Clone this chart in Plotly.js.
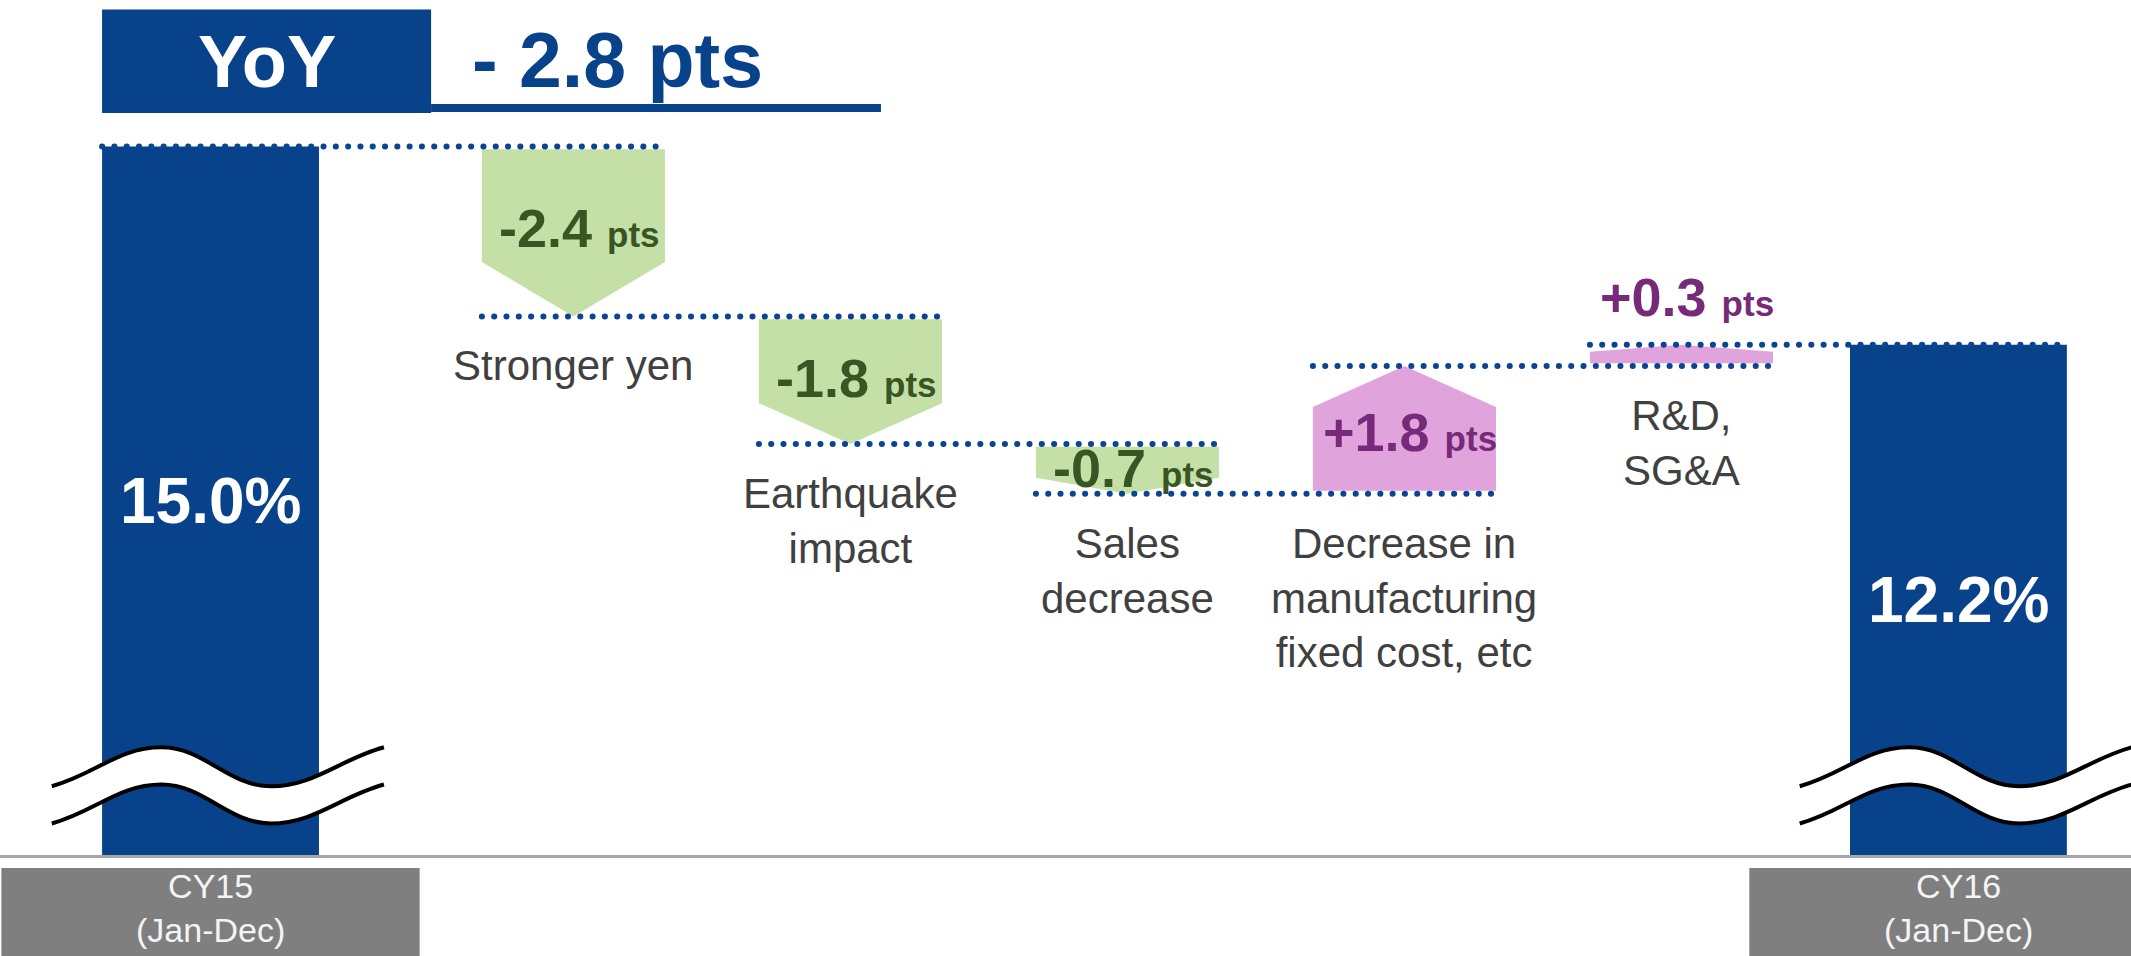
<!DOCTYPE html>
<html>
<head>
<meta charset="utf-8">
<script src="https://cdn.plot.ly/plotly-3.0.1.min.js"></script>
<style>
  html, body { margin: 0; padding: 0; background: #fff; }
  #chart { width: 2131px; height: 956px; }
  /* round caps turn the near-zero dashes of the connectors into dots */
  #chart .js-line { stroke-linecap: round; }
</style>
</head>
<body>
<div id="chart"></div>
<script>
// Operating margin bridge from CY15 to CY16
const categories = ['CY15', 'Stronger yen', 'Earthquake impact', 'Sales decrease',
  'Decrease in manufacturing fixed cost, etc', 'R&D, SG&A', 'CY16'];
const categoryLabels = ['CY15<br>(Jan-Dec)', 'Stronger yen', 'Earthquake<br>impact',
  'Sales<br>decrease', 'Decrease in<br>manufacturing<br>fixed cost, etc', 'R&D,<br>SG&A',
  'CY16<br>(Jan-Dec)'];
const startMargin = 15.0;                    // %
const changes = [-2.4, -1.8, -0.7, 1.8, 0.3]; // pts
const endMargin = 12.2;                      // %

// ---- styling ----
const FONT = 'Liberation Sans, Arial, Helvetica, sans-serif';
const BLUE = '#08428b';
const DOT_BLUE = '#0a4592';
const GREEN_FILL = '#c4e0a6', GREEN_TEXT = '#375623';
const PINK_FILL = '#e0a3dc', PURPLE_TEXT = '#772a79';
const LABEL_GRAY = '#404040';

const AXIS_FLOOR = 5;      // the value axis is broken and starts here
const AXIS_TOP = 15.5;
const LEAD_GAP = 0.31;     // extra room between the opening total and the first step
const BAR_W = 0.783;       // total bars
const STEP_W = 0.661;      // arrow steps
const GAP = 0.04;          // small gap between a level line and the arrow base
const TIP_FRAC = 0.32;     // share of each step taken by the arrow point
const LABEL_FRAC = 0.48;   // where the value sits along its arrow

const round1 = v => Math.round(v * 10) / 10;
const nItems = categories.length;
const xPos = categories.map((_, i) => i === 0 ? 0 : i + LEAD_GAP);
const halfW = i => (i === 0 || i === nItems - 1) ? BAR_W / 2 : STEP_W / 2;

// running level after each item
const levels = [startMargin];
changes.forEach(c => levels.push(round1(levels[levels.length - 1] + c)));
const yoy = round1(endMargin - startMargin);

const traces = [];

// start / end totals
traces.push({
  type: 'bar', x: [xPos[0], xPos[nItems - 1]], y: [startMargin, endMargin], width: BAR_W,
  marker: { color: BLUE, line: { width: 0 } }, hoverinfo: 'skip'
});

// each step drawn as an arrow pointing from the previous level to the new one
changes.forEach((c, k) => {
  const i = k + 1, xc = xPos[i], a = levels[k], b = levels[k + 1];
  const dir = Math.sign(c);
  const hw = halfW(i);
  const base = a + dir * GAP;
  const shoulder = b - dir * Math.abs(c) * TIP_FRAC;
  const fill = c < 0 ? GREEN_FILL : PINK_FILL;
  traces.push({
    type: 'scatter', mode: 'lines', fill: 'toself', fillcolor: fill,
    line: { width: 0, color: fill },
    x: [xc - hw, xc + hw, xc + hw, xc, xc - hw, xc - hw],
    y: [base, base, shoulder, b, shoulder, base],
    hoverinfo: 'skip'
  });
});

// dotted connectors linking each level to the next item
const cx = [], cy = [];
levels.forEach((lv, k) => {
  cx.push(xPos[k] - halfW(k), xPos[k + 1] + halfW(k + 1), null);
  cy.push(lv, lv, null);
});
traces.push({
  type: 'scatter', mode: 'lines', x: cx, y: cy, connectgaps: false,
  line: { color: DOT_BLUE, width: 6, dash: '0.1px,12.2px' }, hoverinfo: 'skip'
});

const annotations = [];

// value of each step
changes.forEach((c, k) => {
  const i = k + 1, a = levels[k], b = levels[k + 1];
  const color = c < 0 ? GREEN_TEXT : PURPLE_TEXT;
  const num = (c < 0 ? '-' : '+') + Math.abs(c).toFixed(1);
  const small = Math.abs(c) < 0.5;
  annotations.push({
    xref: 'x', yref: 'y', x: xPos[i], y: small ? b : a + c * LABEL_FRAC,
    text: '<b>' + num + '\u00a0</b><b><span style="font-size:35px">pts</span></b>',
    showarrow: false, font: { family: FONT, size: 54, color: color },
    yanchor: small ? (c > 0 ? 'bottom' : 'top') : 'middle',
    yshift: small ? (c > 0 ? 16 : -16) : 0, xshift: 6
  });
  // driver name under the step
  annotations.push({
    xref: 'x', yref: 'y', x: xPos[i], y: Math.min(a, b), yanchor: 'top', yshift: -24,
    text: categoryLabels[i], showarrow: false,
    font: { family: FONT, size: 42, color: LABEL_GRAY }
  });
});

// totals: value inside the bar and period box under the axis
[0, nItems - 1].forEach((i, j) => {
  const v = j === 0 ? startMargin : endMargin;
  annotations.push({
    xref: 'x', yref: 'y', x: xPos[i], y: (v + AXIS_FLOOR) / 2,
    text: '<b>' + v.toFixed(1) + '%</b>', showarrow: false,
    font: { family: FONT, size: 64, color: '#ffffff' }
  });
  annotations.push({
    xref: 'x', yref: 'paper', x: xPos[i], y: -0.0135, yanchor: 'top',
    text: categoryLabels[i], showarrow: false,
    font: { family: FONT, size: 34, color: '#f4f4f4' }
  });
});

// header
annotations.push({
  xref: 'paper', yref: 'paper', x: 0.1251, y: 1.067, xanchor: 'center', yanchor: 'middle',
  text: '<b>YoY</b>', showarrow: false, font: { family: FONT, size: 74, color: '#ffffff' }
});
annotations.push({
  xref: 'paper', yref: 'paper', x: 0.2206, y: 1.069, xanchor: 'left', yanchor: 'middle',
  text: '<b>' + (yoy < 0 ? '- ' : '+ ') + Math.abs(yoy).toFixed(1) + ' pts</b>',
  showarrow: false, font: { family: FONT, size: 77, color: BLUE }
});

const shapes = [];
shapes.push({ type: 'rect', xref: 'paper', yref: 'paper', x0: 0.0479, x1: 0.2023,
  y0: 0.9973, y1: 1.1364, fillcolor: BLUE, line: { width: 0 }, layer: 'above' });
shapes.push({ type: 'rect', xref: 'paper', yref: 'paper', x0: 0.2023, x1: 0.4134,
  y0: 0.9987, y1: 1.0094, fillcolor: BLUE, line: { width: 0 }, layer: 'above' });

// grey period boxes
[0, nItems - 1].forEach(i => shapes.push({
  type: 'rect', xref: 'x', yref: 'paper', x0: xPos[i] - 0.755, x1: xPos[i] + 0.755,
  y0: -0.2, y1: -0.0175, fillcolor: '#7f7f7f', line: { width: 0 }, layer: 'above'
}));

// axis-break marks across the total bars
const BREAK_MID = 6.245, BREAK_AMP = 0.275, BREAK_GAP = 0.525;
function breakPaths(xc) {
  const x0 = xc - 0.573, w = 1.199;
  const P = (u, h, yc) => (x0 + u * w).toFixed(4) + ',' + (yc + h * BREAK_AMP).toFixed(4);
  const fwd = yc => 'C ' + P(0.13, -0.4, yc) + ' ' + P(0.2, 1, yc) + ' ' + P(0.33, 1, yc) +
    ' C ' + P(0.46, 1, yc) + ' ' + P(0.53, -1, yc) + ' ' + P(0.66, -1, yc) +
    ' C ' + P(0.79, -1, yc) + ' ' + P(0.87, 0.4, yc) + ' ' + P(1, 1, yc);
  const back = yc => 'C ' + P(0.87, 0.4, yc) + ' ' + P(0.79, -1, yc) + ' ' + P(0.66, -1, yc) +
    ' C ' + P(0.53, -1, yc) + ' ' + P(0.46, 1, yc) + ' ' + P(0.33, 1, yc) +
    ' C ' + P(0.2, 1, yc) + ' ' + P(0.13, -0.4, yc) + ' ' + P(0, -1, yc);
  const up = BREAK_MID, lo = BREAK_MID - BREAK_GAP;
  return {
    band: 'M ' + P(0, -1, up) + ' ' + fwd(up) + ' L ' + P(1, 1, lo) + ' ' + back(lo) + ' Z',
    upper: 'M ' + P(0, -1, up) + ' ' + fwd(up),
    lower: 'M ' + P(0, -1, lo) + ' ' + fwd(lo)
  };
}
[0, nItems - 1].forEach(i => {
  const p = breakPaths(xPos[i]);
  shapes.push({ type: 'path', xref: 'x', yref: 'y', path: p.band,
    fillcolor: '#ffffff', line: { width: 0 }, layer: 'above' });
  shapes.push({ type: 'path', xref: 'x', yref: 'y', path: p.upper,
    fillcolor: 'rgba(0,0,0,0)', line: { color: '#000000', width: 4 }, layer: 'above' });
  shapes.push({ type: 'path', xref: 'x', yref: 'y', path: p.lower,
    fillcolor: 'rgba(0,0,0,0)', line: { color: '#000000', width: 4 }, layer: 'above' });
});

const layout = {
  width: 2131, height: 956,
  margin: { l: 0, r: 0, t: 111, b: 101, pad: 0 },
  paper_bgcolor: '#ffffff', plot_bgcolor: '#ffffff',
  showlegend: false,
  font: { family: FONT },
  xaxis: {
    type: 'linear', range: [-0.760, 6.933], showgrid: false, zeroline: false,
    showticklabels: false, ticks: '', showline: true, linecolor: '#a6a6a6', linewidth: 3,
    tickvals: xPos, ticktext: categories, fixedrange: true
  },
  yaxis: { range: [AXIS_FLOOR, AXIS_TOP], visible: false, fixedrange: true },
  shapes: shapes,
  annotations: annotations
};

Plotly.newPlot('chart', traces, layout, { displayModeBar: false, staticPlot: true });
</script>
</body>
</html>
